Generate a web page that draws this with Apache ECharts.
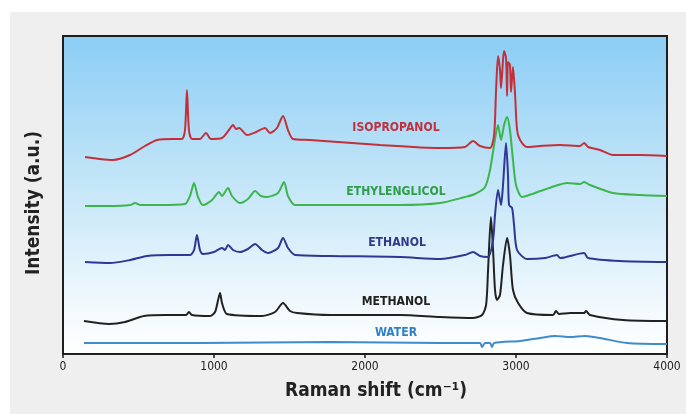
<!DOCTYPE html>
<html>
<head>
<meta charset="utf-8">
<script src="https://cdn.jsdelivr.net/npm/echarts@6/dist/echarts.min.js"></script>
<style>
html,body{margin:0;padding:0;background:#ffffff;}
#chart{width:686px;height:414px;}
</style>
</head>
<body>
<div id="chart"></div>
<script>
// x: Raman shift (cm-1); y: intensity (a.u., curves stacked with offsets)
const xTicks = [0, 1000, 2000, 3000, 4000];
const seriesNames = ['ISOPROPANOL', 'ETHYLENGLICOL', 'ETHANOL', 'METHANOL', 'WATER'];

const isopropanol = [[146,197],[245,195],[331,194],[444,199],[543,208],[623,214],[722,215],[788,215],[808,224],[821,264],[834,224],[854,215],[907,215],[947,221],[980,215],[1053,216],[1099,224],[1126,229],[1146,225],[1166,226],[1219,219],[1279,222],[1338,226],[1371,221],[1417,226],[1457,238],[1490,224],[1523,215],[1636,214],[2100,209],[2497,206],[2662,207],[2715,213],[2762,208],[2828,206],[2855,219],[2868,264],[2881,298],[2894,284],[2901,266],[2914,294],[2921,303],[2934,296],[2941,258],[2947,292],[2960,289],[2967,262],[2980,287],[2994,259],[3007,224],[3027,214],[3073,207],[3159,208],[3292,209],[3424,208],[3451,211],[3477,207],[3556,204],[3642,199],[3821,199],[4000,198]];

const ethyleneglycol = [[146,148],[311,148],[444,149],[477,151],[510,149],[642,149],[808,150],[841,158],[868,171],[894,157],[927,149],[987,154],[1033,162],[1053,158],[1093,166],[1119,158],[1172,151],[1225,155],[1272,163],[1311,158],[1351,157],[1424,161],[1464,172],[1490,158],[1537,149],[1768,149],[2232,149],[2497,151],[2662,157],[2729,160],[2795,167],[2828,184],[2855,209],[2881,229],[2901,214],[2921,229],[2941,237],[2960,224],[2980,194],[3000,169],[3040,157],[3126,161],[3259,168],[3338,171],[3424,170],[3451,172],[3490,169],[3642,161],[3821,159],[4000,158]];

const ethanol = [[146,92],[311,91],[444,94],[556,98],[709,99],[841,99],[868,104],[887,119],[907,104],[927,100],[1000,102],[1053,106],[1073,104],[1093,109],[1126,104],[1172,102],[1225,105],[1272,110],[1318,104],[1358,101],[1424,106],[1457,116],[1490,106],[1537,99],[1768,98],[2232,97],[2497,95],[2662,99],[2715,102],[2762,98],[2815,97],[2848,114],[2861,139],[2881,164],[2901,149],[2914,169],[2934,211],[2947,179],[2954,149],[2974,146],[2987,129],[3007,104],[3073,95],[3192,96],[3272,99],[3292,96],[3451,101],[3477,96],[3689,93],[4000,92]];

const methanol = [[139,33],[305,30],[411,32],[536,38],[682,39],[815,39],[834,42],[854,39],[974,38],[1007,42],[1027,54],[1040,61],[1053,51],[1086,40],[1318,38],[1404,42],[1457,51],[1503,43],[1550,41],[1768,39],[2232,39],[2497,37],[2715,36],[2775,39],[2802,49],[2815,84],[2834,137],[2848,104],[2861,64],[2874,54],[2894,59],[2914,89],[2941,116],[2960,99],[2980,64],[3014,51],[3073,41],[3245,39],[3265,43],[3285,40],[3358,41],[3451,41],[3464,43],[3490,39],[3709,34],[4000,33]];

const water = [[139,11],[907,11],[1768,12],[2497,11],[2762,11],[2775,7],[2795,11],[2828,11],[2841,7],[2855,11],[3027,13],[3159,16],[3259,18],[3358,17],[3457,18],[3556,16],[3735,11],[4000,10]];

const FONT = '"DejaVu Sans Condensed","Liberation Sans Narrow","Roboto Condensed",sans-serif';
const colors = ['#c2303a', '#3cb64c', '#2e3794', '#222222', '#3d8ccc'];
const labelColors = ['#c0313f', '#2e9e48', '#2e3a8c', '#222222', '#2f80c4'];
const labelPos = [[396,128],[396,192],[397,243],[396,302],[396,333]];
const allData = [isopropanol, ethyleneglycol, ethanol, methanol, water];

const chart = echarts.init(document.getElementById('chart'));
const option = {
  backgroundColor: '#ffffff',
  animation: false,
  grid: {
    left: 63, right: 19, top: 36, bottom: 60,
    show: true,
    borderColor: '#1e1e1e',
    borderWidth: 2,
    backgroundColor: new echarts.graphic.LinearGradient(0, 0, 0, 1, [
      {offset: 0, color: '#8bcdf5'},
      {offset: 0.45, color: '#c2e5f8'},
      {offset: 0.85, color: '#f2f9fd'},
      {offset: 1, color: '#ffffff'}
    ])
  },
  xAxis: {
    type: 'value', min: 0, max: 4000, interval: 1000,
    axisLine: {show: true, lineStyle: {color: '#1e1e1e', width: 2}},
    axisTick: {show: true, length: 4, lineStyle: {color: '#1e1e1e', width: 1.5}},
    splitLine: {show: false},
    axisLabel: {color: '#222', fontFamily: FONT, fontSize: 12, margin: 7,
      formatter: v => xTicks.includes(v) ? String(v) : ''},
    name: 'Raman shift (cm\u207B\u00B9)',
    nameLocation: 'middle', nameGap: 28,
    nameTextStyle: {color: '#222', fontFamily: FONT, fontWeight: 'bold', fontSize: 19, padding: [0, 0, 0, 22]}
  },
  yAxis: {
    type: 'value', min: 0, max: 318,
    axisLine: {show: true, lineStyle: {color: '#1e1e1e', width: 2}},
    axisTick: {show: false}, axisLabel: {show: false}, splitLine: {show: false},
    name: 'Intensity (a.u.)', nameLocation: 'middle', nameGap: 19,
    nameTextStyle: {color: '#222', fontFamily: FONT, fontWeight: 'bold', fontSize: 19, padding: [0, 16, 0, 0]}
  },
  graphic: [
    {type: 'rect', z: -10, silent: true, shape: {x: 10, y: 12, width: 676, height: 402}, style: {fill: '#efefef'}}
  ].concat(seriesNames.map((n, i) => ({
    type: 'text', z: 100, x: labelPos[i][0], y: labelPos[i][1], scaleX: 0.93,
    style: {text: n, fill: labelColors[i], font: 'bold 13px ' + FONT, textAlign: 'center', textVerticalAlign: 'middle'}
  }))),
  series: seriesNames.map((n, i) => ({
    name: n, type: 'line', data: allData[i], showSymbol: false, smooth: 0.25,
    lineStyle: {color: colors[i], width: 2}, z: 10 - i
  }))
};
chart.setOption(option);
</script>
</body>
</html>
